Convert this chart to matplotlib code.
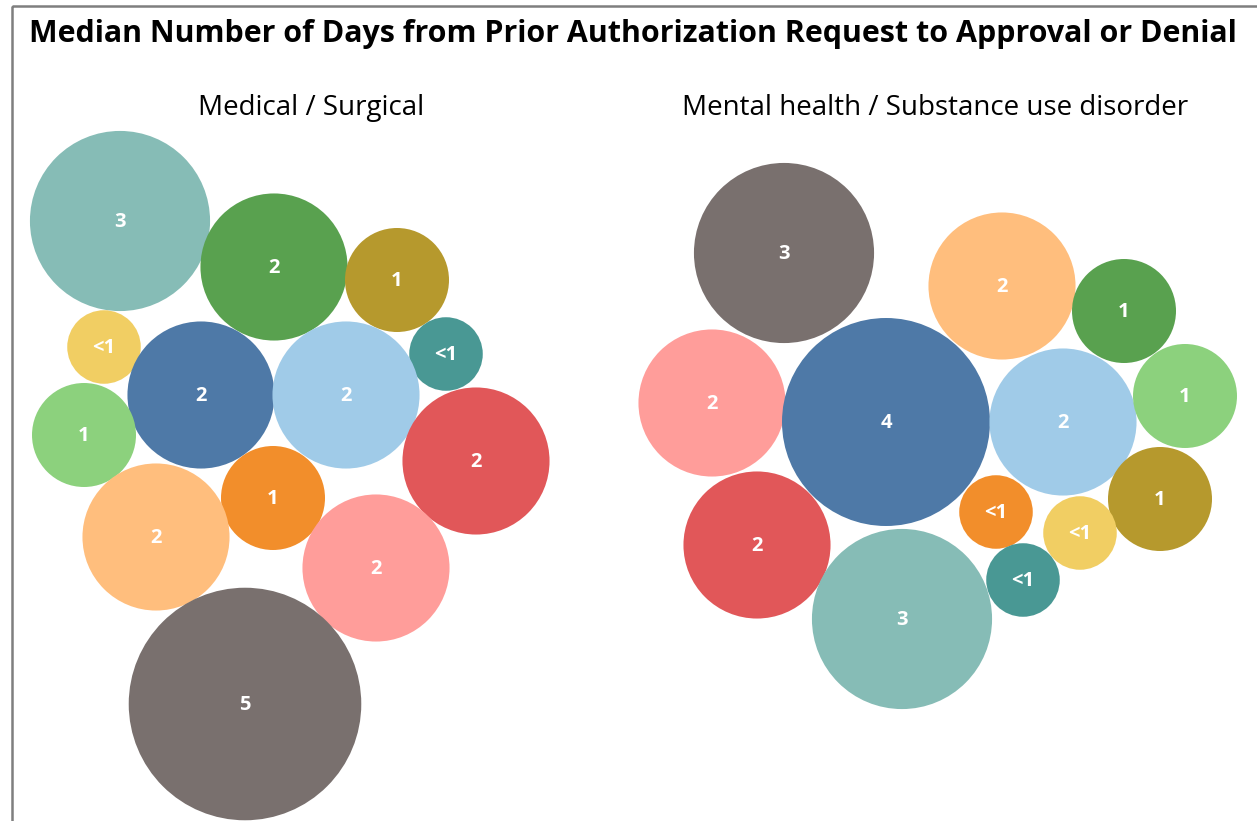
import matplotlib
matplotlib.use("Agg")
import matplotlib.pyplot as plt
from matplotlib.patches import Circle, Rectangle
import numpy as np

plt.rcParams['font.family'] = ['Open Sans', 'DejaVu Sans']

TITLE = "Median Number of Days from Prior Authorization Request to Approval or Denial"
PANELS = ["Medical / Surgical", "Mental health / Substance use disorder"]

# Medical / Surgical
med_labels = ["3", "2", "1", "<1", "<1", "2", "2", "1", "2", "1", "2", "2", "5"]
med_values = [3, 2, 1, 0.5, 0.5, 2, 2, 1, 2, 1, 2, 2, 5]
med_colors = ["#86bcb6", "#59a14f", "#b6992d", "#f1ce63", "#499894", "#4e79a7",
              "#a0cbe8", "#8cd17d", "#e15759", "#f28e2b", "#ffbe7d", "#ff9d9a", "#79706e"]
med_x = [120, 274, 397, 104, 446, 201, 346, 84, 476, 273, 156, 376, 245]
med_y = [221, 267, 280, 347, 354, 395, 395, 435, 461, 498, 537, 568, 704]

# Mental health / Substance use disorder
mh_labels = ["3", "2", "1", "2", "4", "2", "1", "1", "<1", "<1", "2", "<1", "3"]
mh_values = [3, 2, 1, 2, 4, 2, 1, 1, 0.5, 0.5, 2, 0.5, 3]
mh_colors = ["#79706e", "#ffbe7d", "#59a14f", "#ff9d9a", "#4e79a7", "#a0cbe8",
             "#8cd17d", "#b6992d", "#f28e2b", "#f1ce63", "#e15759", "#499894", "#86bcb6"]
mh_x = [784, 1002, 1124, 712, 886, 1063, 1185, 1160, 996, 1080, 757, 1023, 902]
mh_y = [253, 286, 311, 403, 422, 422, 396, 499, 512, 533, 545, 580, 619]

W, H = 1257, 821
fig = plt.figure(figsize=(W / 100, H / 100), dpi=100)
ax = fig.add_axes([0, 0, 1, 1])
ax.set_xlim(0, W)
ax.set_ylim(H, 0)
ax.set_aspect('equal')
ax.axis('off')

SCALE = 52.0  # radius for value 1, sqrt scale


def draw(xs, ys, vals, labs, cols):
    for x, y, v, l, c in zip(xs, ys, vals, labs, cols):
        r = SCALE * np.sqrt(v)
        ax.add_patch(Circle((x, y), r, facecolor=c, edgecolor='none'))
        ax.text(x, y + 1, l, ha='center', va='center', color='white',
                fontsize=14.5, fontweight='bold')


draw(med_x, med_y, med_values, med_labels, med_colors)
draw(mh_x, mh_y, mh_values, mh_labels, mh_colors)

# frame
ax.add_patch(Rectangle((12, 6), W + 20, H + 20, fill=False, edgecolor='#7f7f7f', linewidth=1.8))

ax.text(633, 34, TITLE, ha='center', va='center', fontsize=21.9, fontweight='bold', color='black')
ax.text(311, 108, PANELS[0], ha='center', va='center', fontsize=20, color='black')
ax.text(935, 108, PANELS[1], ha='center', va='center', fontsize=20, color='black')

fig.savefig("out.png", dpi=100)
